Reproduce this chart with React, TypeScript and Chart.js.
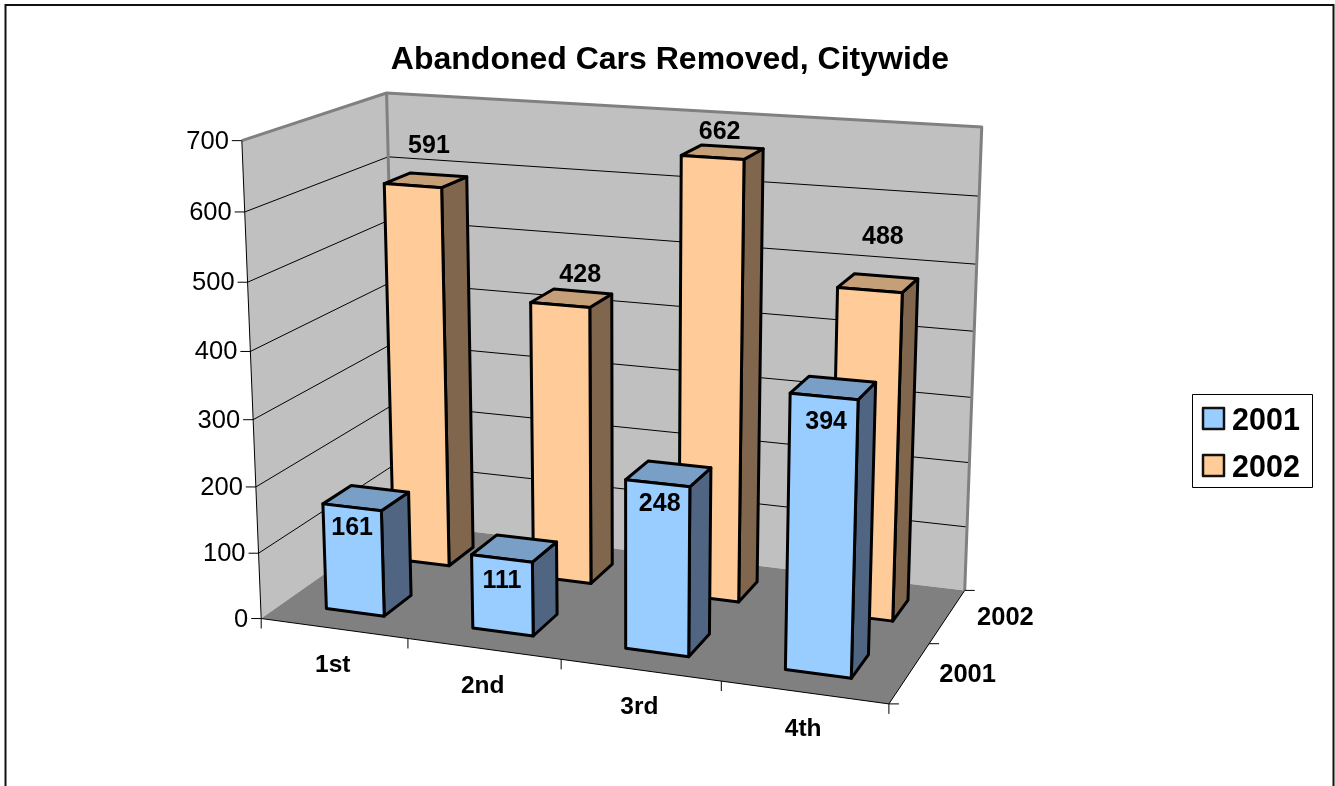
import React, { useEffect, useRef } from "react";
import { Chart, registerables } from "chart.js";

Chart.register(...registerables);

const titleText = "Abandoned Cars Removed, Citywide";
const quarters = ["1st", "2nd", "3rd", "4th"];
const seriesNames = ["2001", "2002"];
const values2001 = [161, 111, 248, 394];
const values2002 = [591, 428, 662, 488];

const FONT = '"Liberation Sans", Arial, sans-serif';
const palette = [
  { front: "#99CCFF", top: "#7A9FC6", side: "#4F6582" },
  { front: "#FFCC99", top: "#C49F78", side: "#80664D" },
];
// Where the unit box (across, depth, height) lands on the page.
const cameraFit: number[][] = [
  [0, 0, 0, 261, 618], [1, 0, 0, 888, 703], [1, 1, 0, 964, 590], [0, 1, 0, 398, 523],
  [0, 0, 1, 242, 141], [0, 1, 1, 386, 93], [1, 1, 1, 982, 127],
  [0.25, 0, 0, 408, 639], [0.5, 0, 0, 561, 660], [0.75, 0, 0, 722, 682], [1, 0.5, 0, 930, 644],
  [0, 0, 6 / 7, 245, 212], [0, 0, 2 / 7, 256, 486], [0, 0, 1 / 7, 258, 553],
];
const DEPTH_HALF = 0.1;
// Label offsets from the middle of each bar's top front edge.
const labelOffsets = [
  [[0, 21], [0, 23], [2, 21], [2, 26]],
  [[16, -40], [20, -30], [7, -25], [13, -53]],
];

function solveCamera(points: number[][]) {
  const n = 11;
  const A = Array.from({ length: n }, () => new Array(n + 1).fill(0));
  const add = (row: number[], rhs: number) => {
    for (let i = 0; i < n; i++) {
      for (let j = 0; j < n; j++) A[i][j] += row[i] * row[j];
      A[i][n] += row[i] * rhs;
    }
  };
  for (const [X, Y, Z, px, py] of points) {
    const x = px / 1000, y = py / 1000;
    add([X, Y, Z, 1, 0, 0, 0, 0, -x * X, -x * Y, -x * Z], x);
    add([0, 0, 0, 0, X, Y, Z, 1, -y * X, -y * Y, -y * Z], y);
  }
  for (let c = 0; c < n; c++) {
    let best = c;
    for (let r = c + 1; r < n; r++) if (Math.abs(A[r][c]) > Math.abs(A[best][c])) best = r;
    [A[c], A[best]] = [A[best], A[c]];
    for (let r = 0; r < n; r++) {
      if (r === c) continue;
      const f = A[r][c] / A[c][c];
      for (let k = c; k <= n; k++) A[r][k] -= f * A[c][k];
    }
  }
  return A.map((row, i) => row[n] / row[i]);
}
const P = solveCamera(cameraFit);
function project(u: number, d: number, h: number): [number, number] {
  const w = P[8] * u + P[9] * d + P[10] * h + 1;
  return [
    (1000 * (P[0] * u + P[1] * d + P[2] * h + P[3])) / w,
    (1000 * (P[4] * u + P[5] * d + P[6] * h + P[7])) / w,
  ];
}

function poly(ctx: CanvasRenderingContext2D, pts: [number, number][], fill?: string, stroke?: string, lw = 1) {
  ctx.beginPath();
  pts.forEach((p, i) => (i ? ctx.lineTo(p[0], p[1]) : ctx.moveTo(p[0], p[1])));
  if (fill) {
    ctx.closePath();
    ctx.fillStyle = fill;
    ctx.fill();
  }
  if (stroke) {
    ctx.strokeStyle = stroke;
    ctx.lineWidth = lw;
    ctx.stroke();
  }
}
function text(ctx: CanvasRenderingContext2D, s: string, x: number, y: number, font: string, align: CanvasTextAlign = "center") {
  ctx.font = font;
  ctx.fillStyle = "#000";
  ctx.textAlign = align;
  ctx.textBaseline = "middle";
  ctx.fillText(s, x, y);
}

const scenePlugin = {
  id: "scene3d",
  beforeDraw(chart: any) {
    const ctx = chart.ctx;
    ctx.fillStyle = "#fff";
    ctx.fillRect(0, 0, chart.width, chart.height);
    ctx.strokeStyle = "#111";
    ctx.lineWidth = 2;
    ctx.beginPath();
    ctx.moveTo(5.5, 800);
    ctx.lineTo(5.5, 5);
    ctx.lineTo(1333.5, 5);
    ctx.lineTo(1333.5, 800);
    ctx.stroke();
  },
  beforeDatasetsDraw(chart: any) {
    const ctx = chart.ctx as CanvasRenderingContext2D;
    const { x: xs, y: ys, depth: ds } = chart.scales;
    const area = chart.chartArea;
    const U = (px: number) => (px - area.left) / area.width;
    const H = (py: number) => (area.bottom - py) / area.height;
    const D = (i: number) => U(ds.getPixelForValue(i));
    ctx.save();
    ctx.lineJoin = "round";

    // walls and floor
    poly(ctx, [project(0, 0, 0), project(0, 1, 0), project(0, 1, 1), project(0, 0, 1)], "#C0C0C0");
    poly(ctx, [project(0, 1, 0), project(1, 1, 0), project(1, 1, 1), project(0, 1, 1)], "#C0C0C0");
    poly(ctx, [project(0, 0, 0), project(1, 0, 0), project(1, 1, 0), project(0, 1, 0)], "#808080");

    // gridlines and value ticks
    ys.ticks.forEach((t: any) => {
      const h = H(ys.getPixelForValue(t.value));
      const a = project(0, 0, h), b = project(0, 1, h), c = project(1, 1, h);
      if (t.value > 0 && t.value < ys.max) poly(ctx, [a, b, c], undefined, "#000", 1);
      poly(ctx, [[a[0] - 10, a[1]], a], undefined, "#000", 1);
      text(ctx, String(t.value), a[0] - 13, a[1] + 1, `25.5px ${FONT}`, "right");
    });
    // wall edges
    poly(ctx, [project(0, 0, 1), project(0, 1, 1), project(1, 1, 1), project(1, 1, 0)], undefined, "#808080", 3);
    poly(ctx, [project(0, 1, 1), project(0, 1, 0)], undefined, "#808080", 3);
    // axes
    poly(ctx, [project(0, 0, 1), project(0, 0, 0), project(1, 0, 0), project(1, 1, 0)], undefined, "#000", 1);

    // category axis ticks + labels
    const n = quarters.length;
    for (let i = 0; i <= n; i++) {
      const p = project(i / n, 0, 0);
      poly(ctx, [p, [p[0], p[1] + 10]], undefined, "#000", 1);
    }
    xs.ticks.forEach((t: any, i: number) => {
      const uc = U(xs.getPixelForValue(i));
      const p = project(uc, 0, 0);
      text(ctx, xs.getLabelForValue(t.value), p[0] - 1, p[1] + 37, `bold 24.5px ${FONT}`);
    });
    // depth axis ticks + labels
    for (let i = 0; i <= 2; i++) {
      const p = project(1, i / 2, 0);
      poly(ctx, [p, [p[0] + 10, p[1]]], undefined, "#000", 1);
    }
    seriesNames.forEach((name, i) => {
      const p = project(1, D(i), 0);
      text(ctx, name, p[0] + 58, p[1] + 2, `bold 25.5px ${FONT}`, "center");
    });

    // bars, back row first
    const labels: [string, number, number][] = [];
    [1, 0].forEach((di) => {
      const meta = chart.getDatasetMeta(di);
      const col = palette[di];
      const d0 = D(di) - DEPTH_HALF, d1 = D(di) + DEPTH_HALF;
      meta.data.forEach((bar: any, i: number) => {
        const { x, y, width } = bar.getProps(["x", "y", "width"], true);
        const u0 = U(x - width / 2), u1 = U(x + width / 2), h = H(y);
        const fbl = project(u0, d0, 0), fbr = project(u1, d0, 0), ftl = project(u0, d0, h), ftr = project(u1, d0, h);
        const bbr = project(u1, d1, 0), btl = project(u0, d1, h), btr = project(u1, d1, h);
        poly(ctx, [fbr, bbr, btr, ftr], col.side, "#000", 3);
        poly(ctx, [ftl, ftr, btr, btl], col.top, "#000", 3);
        poly(ctx, [fbl, fbr, ftr, ftl], col.front, "#000", 3);
        const off = labelOffsets[di][i];
        labels.push([
          String(chart.data.datasets[di].data[i]),
          (ftl[0] + ftr[0]) / 2 + off[0],
          (ftl[1] + ftr[1]) / 2 + off[1],
        ]);
      });
    });
    labels.forEach(([s, lx, ly]) => text(ctx, s, lx, ly, `bold 25px ${FONT}`));

    // legend
    ctx.fillStyle = "#fff";
    ctx.fillRect(1192, 394, 121, 93);
    ctx.strokeStyle = "#000";
    ctx.lineWidth = 1;
    ctx.strokeRect(1192.5, 394.5, 120, 93);
    chart.data.datasets.forEach((ds2: any, i: number) => {
      const top = 408 + i * 47;
      ctx.fillStyle = ds2.backgroundColor;
      ctx.fillRect(1203, top, 21, 21);
      ctx.strokeStyle = "#111";
      ctx.lineWidth = 2.5;
      ctx.strokeRect(1203, top, 21, 21);
      text(ctx, ds2.label, 1232, top + 13.5, `bold 30.5px ${FONT}`, "left");
    });
    ctx.restore();
    return false;
  },
};

export default function App() {
  const ref = useRef<HTMLCanvasElement>(null);
  useEffect(() => {
    const chart = new Chart(ref.current as HTMLCanvasElement, {
      type: "bar",
      data: {
        labels: quarters,
        datasets: [
          { label: seriesNames[0], data: values2001, backgroundColor: palette[0].front },
          { label: seriesNames[1], data: values2002, backgroundColor: palette[1].front },
        ],
      },
      options: {
        animation: false,
        responsive: false,
        layout: { padding: { left: 5 } },
        datasets: { bar: { grouped: false, barPercentage: 0.4, categoryPercentage: 1 } },
        scales: {
          x: { type: "category", display: false },
          y: { type: "linear", display: false, min: 0, max: 700, ticks: { stepSize: 100 } },
          depth: { type: "category", axis: "x", labels: seriesNames, display: false },
        },
        plugins: {
          legend: { display: false },
          tooltip: { enabled: false },
          title: {
            display: true,
            text: titleText,
            color: "#000",
            font: { family: FONT, size: 32, weight: "bold" },
            padding: { top: 41, bottom: 10 },
          },
        },
      },
      plugins: [scenePlugin],
    } as any);
    return () => chart.destroy();
  }, []);
  return (
    <canvas
      ref={ref}
      width={1335}
      height={786}
      style={{ position: "absolute", left: 0, top: 0, display: "block" }}
    />
  );
}
